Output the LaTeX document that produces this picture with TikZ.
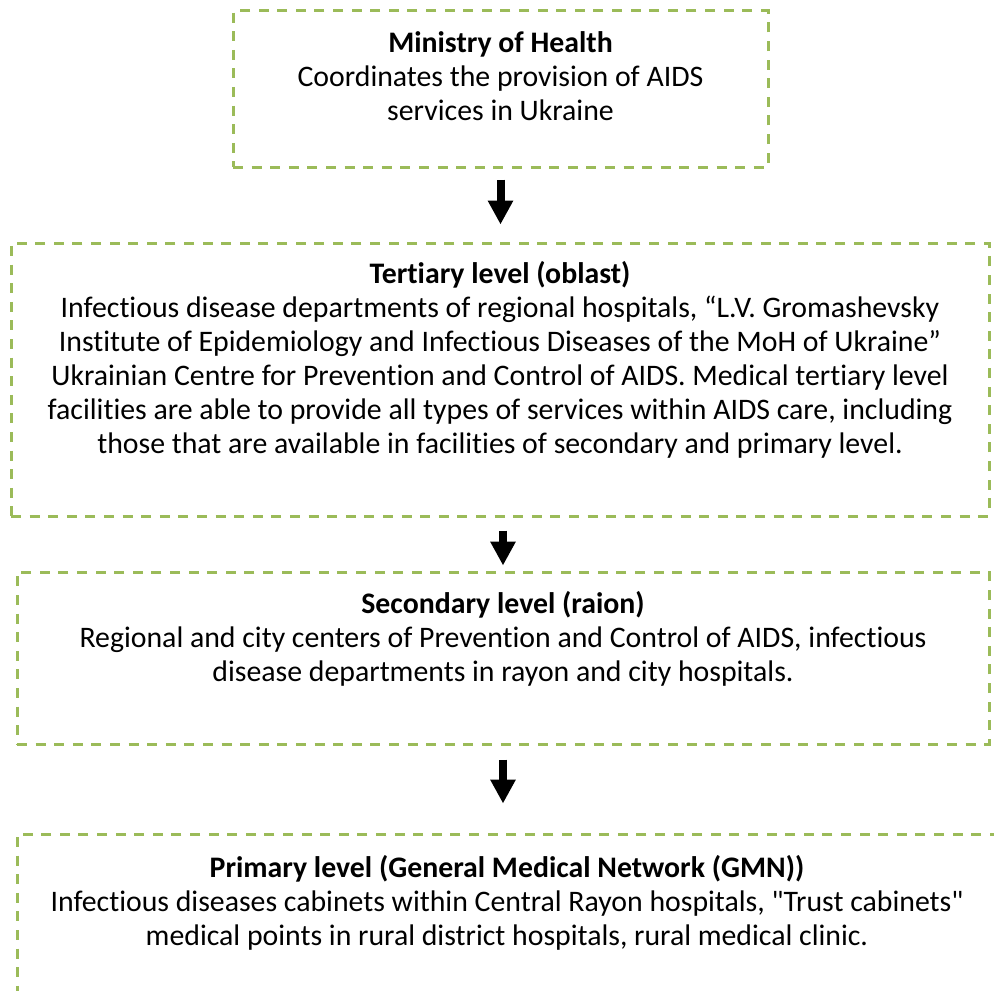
\documentclass[tikz,border=0pt]{standalone}
\usepackage{fontspec}
\newfontfamily\levelfont{Carlito}[Ligatures=CommonOff]
\usetikzlibrary{arrows.meta}
\definecolor{boxgreen}{RGB}{155,187,89}

\begin{document}
\begin{tikzpicture}[%
    x=0.5pt, y=-0.5pt,
    levelbox/.style={draw=boxgreen, line width=1.5pt,
        dash pattern=on 5pt off 4.3pt, inner sep=0pt},
    leveltext/.style={anchor=north, inner sep=0pt, align=center,
        font=\levelfont\fontsize{14.9pt}{17pt}\selectfont},
    flow/.style={line width=4pt, -{Triangle[width=12pt,length=12pt]}}]
  \useasboundingbox (0,0) rectangle (994,990);
  \clip (0,0) rectangle (994,990);
  \node[levelbox, minimum width=267.5pt, minimum height=78pt] (ministry) at (500.5,89) {};
  \node[levelbox, minimum width=489pt, minimum height=136.5pt] (tertiary) at (500,379.5) {};
  \node[levelbox, minimum width=486pt, minimum height=86pt] (secondary) at (503,658) {};
  \node[levelbox, minimum width=490pt, minimum height=88pt] (primary) at (507,922) {};
  \node[leveltext] (ministrytext) at ([yshift=-11pt]ministry.north)
    {\textbf{Ministry of Health}\\
     Coordinates the provision of AIDS\\
     services in Ukraine};
  \node[leveltext] (tertiarytext) at ([yshift=-9.5pt]tertiary.north)
    {\textbf{Tertiary level (oblast)}\\
     Infectious disease departments of regional hospitals, “L.V. Gromashevsky\\
     Institute of Epidemiology and Infectious Diseases of the MoH of Ukraine”\\
     Ukrainian Centre for Prevention and Control of AIDS. Medical tertiary level\\
     facilities are able to provide all types of services within AIDS care, including\\
     those that are available in facilities of secondary and primary level.};
  \node[leveltext] (secondarytext) at ([yshift=-10pt]secondary.north)
    {\textbf{Secondary level (raion)}\\
     Regional and city centers of Prevention and Control of AIDS, infectious\\
     disease departments in rayon and city hospitals.};
  \node[leveltext] (primarytext) at ([yshift=-11pt]primary.north)
    {\textbf{Primary level (General Medical Network (GMN))}\\
     Infectious diseases cabinets within Central Rayon hospitals, "Trust cabinets"\\
     medical points in rural district hospitals, rural medical clinic.};
  \draw[flow, shorten <=5.5pt, shorten >=8.5pt] (ministry.south) -- (ministry.south |- tertiary.north);
  \draw[flow, shorten <=6.5pt, shorten >=2.5pt] (secondary.north |- tertiary.south) -- (secondary.north);
  \draw[flow, shorten <=7pt, shorten >=14.5pt] (secondary.south) -- (secondary.south |- primary.north);
\end{tikzpicture}
\end{document}
